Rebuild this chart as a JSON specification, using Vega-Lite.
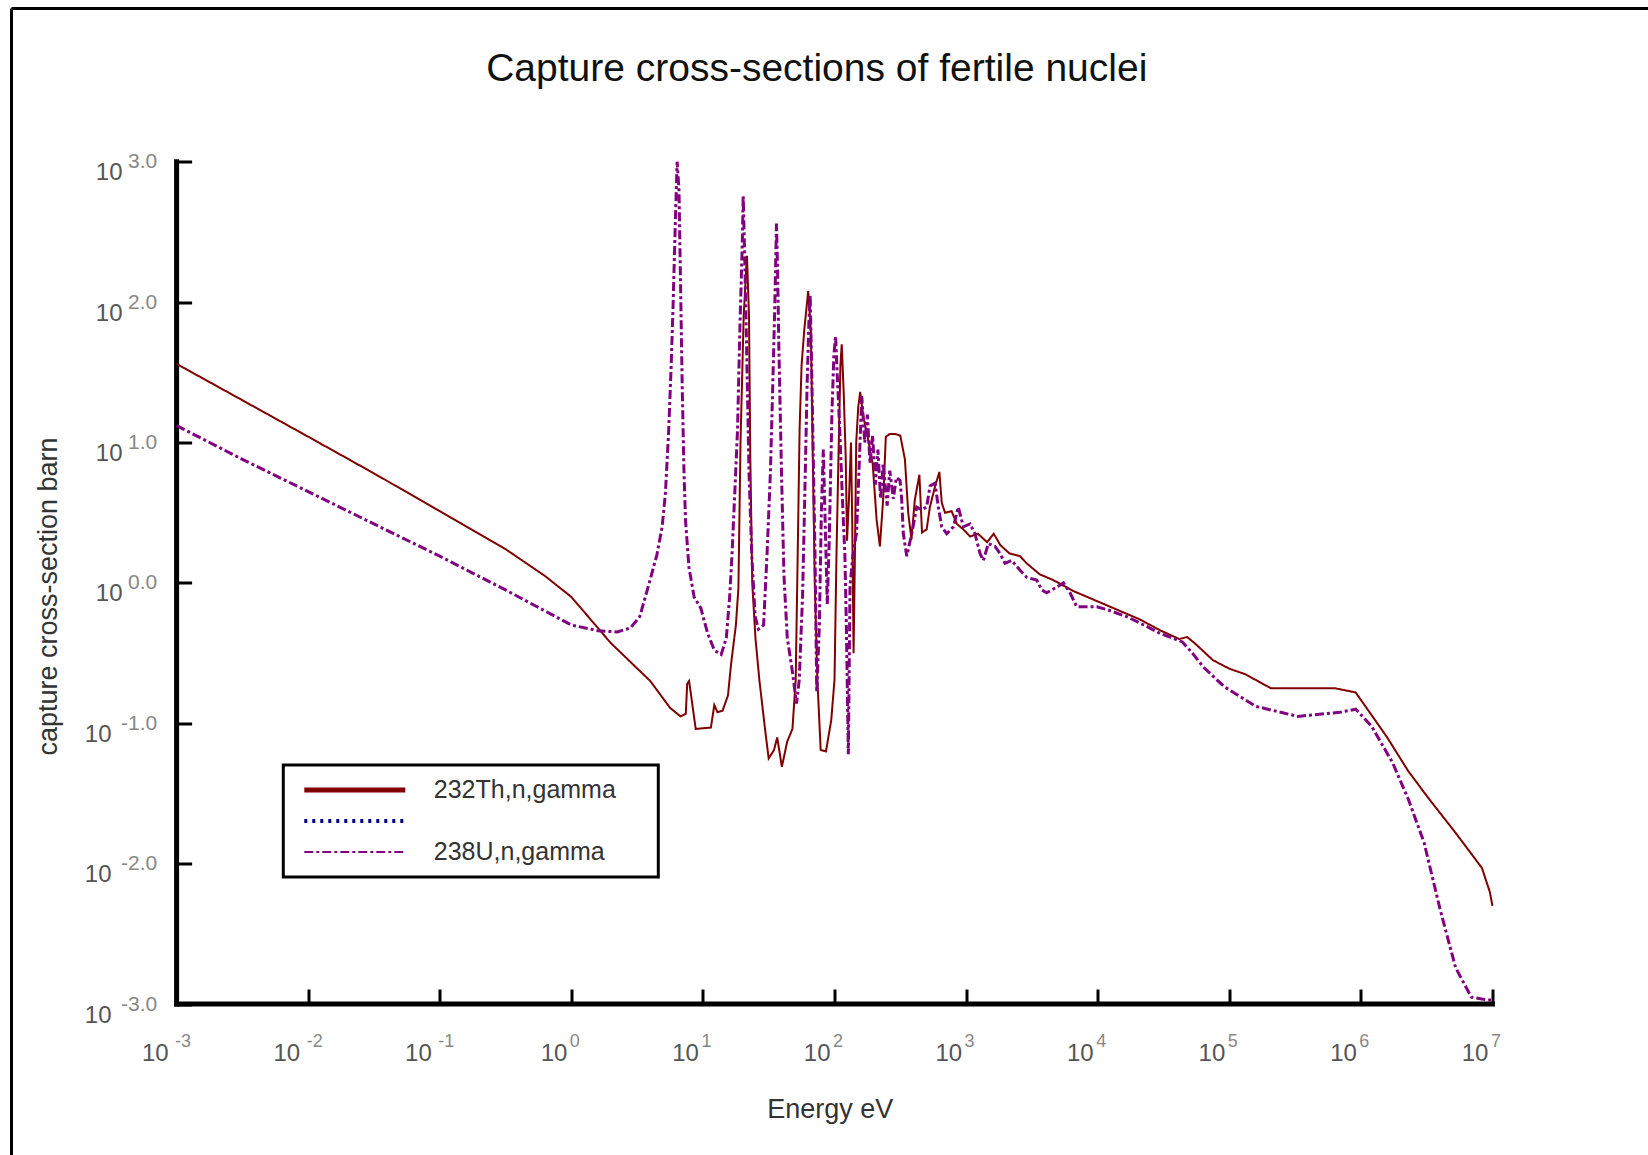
{
  "$schema": "https://vega.github.io/schema/vega-lite/v6.json",
  "width": 1636.5,
  "height": 1146.5,
  "autosize": "none",
  "padding": {"left": 11.5, "top": 8.5, "right": 0, "bottom": 0},
  "background": "white",
  "config": {"view": {"stroke": null}, "axis": {"grid": false}, "font": "Liberation Sans"},
  "title": {"text": "Capture cross-sections of fertile nuclei", "frame": "group", "anchor": "middle", "orient": "top", "offset": -82, "dx": -13, "font": "Liberation Sans", "fontSize": 39, "fontWeight": "normal", "color": "#111"},
  "resolve": {"axis": {"x": "independent", "y": "independent"}},
  "datasets": {
    "yexp": [
      {"sigma": 1000, "exp": "3.0"}, {"sigma": 100, "exp": "2.0"}, {"sigma": 10, "exp": "1.0"}, {"sigma": 1, "exp": "0.0"},
      {"sigma": 0.1, "exp": "-1.0"}, {"sigma": 0.01, "exp": "-2.0"}, {"sigma": 0.001, "exp": "-3.0"}
    ],
    "xexp": [
      {"E": 0.001, "exp": "-3"}, {"E": 0.01, "exp": "-2"}, {"E": 0.1, "exp": "-1"}, {"E": 1, "exp": "0"},
      {"E": 10, "exp": "1"}, {"E": 100, "exp": "2"}, {"E": 1000, "exp": "3"}, {"E": 10000, "exp": "4"},
      {"E": 100000, "exp": "5"}, {"E": 1000000, "exp": "6"}, {"E": 10000000, "exp": "7"}
    ],
    "curves": [
      {"series": "232Th,n,gamma", "E": 0.001, "sigma": 36.3},
      {"series": "232Th,n,gamma", "E": 0.00316, "sigma": 20.0},
      {"series": "232Th,n,gamma", "E": 0.01, "sigma": 11.0},
      {"series": "232Th,n,gamma", "E": 0.0316, "sigma": 6.03},
      {"series": "232Th,n,gamma", "E": 0.1, "sigma": 3.24},
      {"series": "232Th,n,gamma", "E": 0.316, "sigma": 1.74},
      {"series": "232Th,n,gamma", "E": 0.631, "sigma": 1.12},
      {"series": "232Th,n,gamma", "E": 1.0, "sigma": 0.794},
      {"series": "232Th,n,gamma", "E": 2.0, "sigma": 0.372},
      {"series": "232Th,n,gamma", "E": 3.98, "sigma": 0.2},
      {"series": "232Th,n,gamma", "E": 5.62, "sigma": 0.129},
      {"series": "232Th,n,gamma", "E": 6.76, "sigma": 0.112},
      {"series": "232Th,n,gamma", "E": 7.41, "sigma": 0.117},
      {"series": "232Th,n,gamma", "E": 7.59, "sigma": 0.191},
      {"series": "232Th,n,gamma", "E": 7.85, "sigma": 0.2},
      {"series": "232Th,n,gamma", "E": 8.13, "sigma": 0.158},
      {"series": "232Th,n,gamma", "E": 8.81, "sigma": 0.0912},
      {"series": "232Th,n,gamma", "E": 11.5, "sigma": 0.0933},
      {"series": "232Th,n,gamma", "E": 12.2, "sigma": 0.135},
      {"series": "232Th,n,gamma", "E": 12.9, "sigma": 0.12},
      {"series": "232Th,n,gamma", "E": 14.1, "sigma": 0.123},
      {"series": "232Th,n,gamma", "E": 15.5, "sigma": 0.158},
      {"series": "232Th,n,gamma", "E": 16.4, "sigma": 0.269},
      {"series": "232Th,n,gamma", "E": 17.8, "sigma": 0.501},
      {"series": "232Th,n,gamma", "E": 18.6, "sigma": 0.912},
      {"series": "232Th,n,gamma", "E": 19.3, "sigma": 10.0},
      {"series": "232Th,n,gamma", "E": 20.4, "sigma": 79.4},
      {"series": "232Th,n,gamma", "E": 21.6, "sigma": 214},
      {"series": "232Th,n,gamma", "E": 22.4, "sigma": 79.4},
      {"series": "232Th,n,gamma", "E": 22.9, "sigma": 7.94},
      {"series": "232Th,n,gamma", "E": 23.7, "sigma": 1.0},
      {"series": "232Th,n,gamma", "E": 25.1, "sigma": 0.398},
      {"series": "232Th,n,gamma", "E": 26.9, "sigma": 0.2},
      {"series": "232Th,n,gamma", "E": 29.9, "sigma": 0.0851},
      {"series": "232Th,n,gamma", "E": 31.6, "sigma": 0.0562},
      {"series": "232Th,n,gamma", "E": 34.7, "sigma": 0.0646},
      {"series": "232Th,n,gamma", "E": 36.7, "sigma": 0.0794},
      {"series": "232Th,n,gamma", "E": 39.8, "sigma": 0.049},
      {"series": "232Th,n,gamma", "E": 43.7, "sigma": 0.0741},
      {"series": "232Th,n,gamma", "E": 47.9, "sigma": 0.0912},
      {"series": "232Th,n,gamma", "E": 50.7, "sigma": 0.204},
      {"series": "232Th,n,gamma", "E": 52.5, "sigma": 1.585},
      {"series": "232Th,n,gamma", "E": 54.3, "sigma": 12.6},
      {"series": "232Th,n,gamma", "E": 56.2, "sigma": 35.5},
      {"series": "232Th,n,gamma", "E": 58.9, "sigma": 63.1},
      {"series": "232Th,n,gamma", "E": 63.1, "sigma": 120},
      {"series": "232Th,n,gamma", "E": 66.1, "sigma": 63.1},
      {"series": "232Th,n,gamma", "E": 68.4, "sigma": 7.94},
      {"series": "232Th,n,gamma", "E": 70.8, "sigma": 1.0},
      {"series": "232Th,n,gamma", "E": 74.1, "sigma": 0.204},
      {"series": "232Th,n,gamma", "E": 78.5, "sigma": 0.0646},
      {"series": "232Th,n,gamma", "E": 86.1, "sigma": 0.0631},
      {"series": "232Th,n,gamma", "E": 94.4, "sigma": 0.105},
      {"series": "232Th,n,gamma", "E": 100, "sigma": 0.204},
      {"series": "232Th,n,gamma", "E": 103.5, "sigma": 1.585},
      {"series": "232Th,n,gamma", "E": 107.2, "sigma": 7.94},
      {"series": "232Th,n,gamma", "E": 110.9, "sigma": 35.5},
      {"series": "232Th,n,gamma", "E": 113.5, "sigma": 50.1},
      {"series": "232Th,n,gamma", "E": 117.5, "sigma": 22.4},
      {"series": "232Th,n,gamma", "E": 121.6, "sigma": 7.94},
      {"series": "232Th,n,gamma", "E": 124.5, "sigma": 2.0},
      {"series": "232Th,n,gamma", "E": 128.8, "sigma": 3.98},
      {"series": "232Th,n,gamma", "E": 133.4, "sigma": 10.0},
      {"series": "232Th,n,gamma", "E": 136.5, "sigma": 2.51},
      {"series": "232Th,n,gamma", "E": 139.6, "sigma": 0.316},
      {"series": "232Th,n,gamma", "E": 142.9, "sigma": 1.585},
      {"series": "232Th,n,gamma", "E": 146.2, "sigma": 10.0},
      {"series": "232Th,n,gamma", "E": 151.4, "sigma": 17.8},
      {"series": "232Th,n,gamma", "E": 156.7, "sigma": 22.9},
      {"series": "232Th,n,gamma", "E": 166, "sigma": 15.1},
      {"series": "232Th,n,gamma", "E": 177.8, "sigma": 11.2},
      {"series": "232Th,n,gamma", "E": 195, "sigma": 7.08},
      {"series": "232Th,n,gamma", "E": 208.9, "sigma": 2.82},
      {"series": "232Th,n,gamma", "E": 221.3, "sigma": 1.82},
      {"series": "232Th,n,gamma", "E": 234.4, "sigma": 3.98},
      {"series": "232Th,n,gamma", "E": 245.5, "sigma": 11.0},
      {"series": "232Th,n,gamma", "E": 263, "sigma": 11.5},
      {"series": "232Th,n,gamma", "E": 288.4, "sigma": 11.5},
      {"series": "232Th,n,gamma", "E": 316.2, "sigma": 11.2},
      {"series": "232Th,n,gamma", "E": 342.8, "sigma": 7.59},
      {"series": "232Th,n,gamma", "E": 363.1, "sigma": 3.16},
      {"series": "232Th,n,gamma", "E": 384.6, "sigma": 2.04},
      {"series": "232Th,n,gamma", "E": 407.4, "sigma": 3.89},
      {"series": "232Th,n,gamma", "E": 441.6, "sigma": 5.89},
      {"series": "232Th,n,gamma", "E": 462.4, "sigma": 2.29},
      {"series": "232Th,n,gamma", "E": 501.2, "sigma": 2.4},
      {"series": "232Th,n,gamma", "E": 530.9, "sigma": 3.47},
      {"series": "232Th,n,gamma", "E": 582.1, "sigma": 4.9},
      {"series": "232Th,n,gamma", "E": 626.6, "sigma": 6.17},
      {"series": "232Th,n,gamma", "E": 653.1, "sigma": 3.72},
      {"series": "232Th,n,gamma", "E": 691.8, "sigma": 3.16},
      {"series": "232Th,n,gamma", "E": 776.2, "sigma": 3.24},
      {"series": "232Th,n,gamma", "E": 851.1, "sigma": 2.63},
      {"series": "232Th,n,gamma", "E": 955, "sigma": 2.4},
      {"series": "232Th,n,gamma", "E": 1072, "sigma": 2.14},
      {"series": "232Th,n,gamma", "E": 1230, "sigma": 2.24},
      {"series": "232Th,n,gamma", "E": 1445, "sigma": 1.95},
      {"series": "232Th,n,gamma", "E": 1622, "sigma": 2.24},
      {"series": "232Th,n,gamma", "E": 1820, "sigma": 1.86},
      {"series": "232Th,n,gamma", "E": 2138, "sigma": 1.62},
      {"series": "232Th,n,gamma", "E": 2570, "sigma": 1.55},
      {"series": "232Th,n,gamma", "E": 2884, "sigma": 1.38},
      {"series": "232Th,n,gamma", "E": 3631, "sigma": 1.15},
      {"series": "232Th,n,gamma", "E": 4571, "sigma": 1.05},
      {"series": "232Th,n,gamma", "E": 6607, "sigma": 0.871},
      {"series": "232Th,n,gamma", "E": 9333, "sigma": 0.759},
      {"series": "232Th,n,gamma", "E": 13183, "sigma": 0.661},
      {"series": "232Th,n,gamma", "E": 20893, "sigma": 0.55},
      {"series": "232Th,n,gamma", "E": 29512, "sigma": 0.462},
      {"series": "232Th,n,gamma", "E": 41687, "sigma": 0.398},
      {"series": "232Th,n,gamma", "E": 47863, "sigma": 0.412},
      {"series": "232Th,n,gamma", "E": 56234, "sigma": 0.363},
      {"series": "232Th,n,gamma", "E": 74989, "sigma": 0.282},
      {"series": "232Th,n,gamma", "E": 100000, "sigma": 0.245},
      {"series": "232Th,n,gamma", "E": 131826, "sigma": 0.224},
      {"series": "232Th,n,gamma", "E": 206538, "sigma": 0.178},
      {"series": "232Th,n,gamma", "E": 630957, "sigma": 0.178},
      {"series": "232Th,n,gamma", "E": 912011, "sigma": 0.166},
      {"series": "232Th,n,gamma", "E": 1202264, "sigma": 0.115},
      {"series": "232Th,n,gamma", "E": 1584893, "sigma": 0.0794},
      {"series": "232Th,n,gamma", "E": 2290868, "sigma": 0.0457},
      {"series": "232Th,n,gamma", "E": 3311311, "sigma": 0.0288},
      {"series": "232Th,n,gamma", "E": 5248075, "sigma": 0.0166},
      {"series": "232Th,n,gamma", "E": 8317638, "sigma": 0.00933},
      {"series": "232Th,n,gamma", "E": 9549926, "sigma": 0.00631},
      {"series": "232Th,n,gamma", "E": 10000000, "sigma": 0.00501},
      {"series": "238U,n,gamma", "E": 0.001, "sigma": 13.2},
      {"series": "238U,n,gamma", "E": 0.00316, "sigma": 7.59},
      {"series": "238U,n,gamma", "E": 0.01, "sigma": 4.47},
      {"series": "238U,n,gamma", "E": 0.0316, "sigma": 2.63},
      {"series": "238U,n,gamma", "E": 0.1, "sigma": 1.55},
      {"series": "238U,n,gamma", "E": 0.316, "sigma": 0.891},
      {"series": "238U,n,gamma", "E": 0.631, "sigma": 0.631},
      {"series": "238U,n,gamma", "E": 1, "sigma": 0.501},
      {"series": "238U,n,gamma", "E": 1.585, "sigma": 0.457},
      {"series": "238U,n,gamma", "E": 2.239, "sigma": 0.447},
      {"series": "238U,n,gamma", "E": 2.818, "sigma": 0.479},
      {"series": "238U,n,gamma", "E": 3.311, "sigma": 0.575},
      {"series": "238U,n,gamma", "E": 3.963, "sigma": 1.047},
      {"series": "238U,n,gamma", "E": 4.467, "sigma": 1.585},
      {"series": "238U,n,gamma", "E": 4.898, "sigma": 2.512},
      {"series": "238U,n,gamma", "E": 5.188, "sigma": 4.365},
      {"series": "238U,n,gamma", "E": 5.495, "sigma": 12.3},
      {"series": "238U,n,gamma", "E": 5.728, "sigma": 33.9},
      {"series": "238U,n,gamma", "E": 5.93, "sigma": 93.3},
      {"series": "238U,n,gamma", "E": 6.166, "sigma": 363},
      {"series": "238U,n,gamma", "E": 6.368, "sigma": 1000},
      {"series": "238U,n,gamma", "E": 6.577, "sigma": 631},
      {"series": "238U,n,gamma", "E": 6.761, "sigma": 132},
      {"series": "238U,n,gamma", "E": 6.966, "sigma": 24},
      {"series": "238U,n,gamma", "E": 7.178, "sigma": 6.17},
      {"series": "238U,n,gamma", "E": 7.379, "sigma": 2.75},
      {"series": "238U,n,gamma", "E": 7.834, "sigma": 1.288},
      {"series": "238U,n,gamma", "E": 8.57, "sigma": 0.794},
      {"series": "238U,n,gamma", "E": 9.638, "sigma": 0.661},
      {"series": "238U,n,gamma", "E": 10.86, "sigma": 0.437},
      {"series": "238U,n,gamma", "E": 12.22, "sigma": 0.331},
      {"series": "238U,n,gamma", "E": 13.77, "sigma": 0.309},
      {"series": "238U,n,gamma", "E": 15.07, "sigma": 0.407},
      {"series": "238U,n,gamma", "E": 15.96, "sigma": 0.794},
      {"series": "238U,n,gamma", "E": 16.63, "sigma": 1.585},
      {"series": "238U,n,gamma", "E": 17.46, "sigma": 4.365},
      {"series": "238U,n,gamma", "E": 18.32, "sigma": 12.3},
      {"series": "238U,n,gamma", "E": 19.1, "sigma": 66.1},
      {"series": "238U,n,gamma", "E": 19.91, "sigma": 263},
      {"series": "238U,n,gamma", "E": 20.23, "sigma": 575},
      {"series": "238U,n,gamma", "E": 20.8, "sigma": 200},
      {"series": "238U,n,gamma", "E": 21.48, "sigma": 47.9},
      {"series": "238U,n,gamma", "E": 22.39, "sigma": 6.17},
      {"series": "238U,n,gamma", "E": 23.5, "sigma": 1.585},
      {"series": "238U,n,gamma", "E": 24.95, "sigma": 0.575},
      {"series": "238U,n,gamma", "E": 26.42, "sigma": 0.468},
      {"series": "238U,n,gamma", "E": 28.91, "sigma": 0.501},
      {"series": "238U,n,gamma", "E": 30.69, "sigma": 1.585},
      {"series": "238U,n,gamma", "E": 32.58, "sigma": 6.17},
      {"series": "238U,n,gamma", "E": 33.88, "sigma": 24},
      {"series": "238U,n,gamma", "E": 35.16, "sigma": 93.3},
      {"series": "238U,n,gamma", "E": 36.22, "sigma": 363},
      {"series": "238U,n,gamma", "E": 36.98, "sigma": 158},
      {"series": "238U,n,gamma", "E": 37.76, "sigma": 47.9},
      {"series": "238U,n,gamma", "E": 39.54, "sigma": 6.17},
      {"series": "238U,n,gamma", "E": 41.3, "sigma": 1.122},
      {"series": "238U,n,gamma", "E": 43.75, "sigma": 0.407},
      {"series": "238U,n,gamma", "E": 47.86, "sigma": 0.234},
      {"series": "238U,n,gamma", "E": 51.4, "sigma": 0.138},
      {"series": "238U,n,gamma", "E": 53.95, "sigma": 0.204},
      {"series": "238U,n,gamma", "E": 57.15, "sigma": 0.794},
      {"series": "238U,n,gamma", "E": 59.98, "sigma": 6.17},
      {"series": "238U,n,gamma", "E": 61.8, "sigma": 24},
      {"series": "238U,n,gamma", "E": 63.83, "sigma": 70.8},
      {"series": "238U,n,gamma", "E": 65.31, "sigma": 112},
      {"series": "238U,n,gamma", "E": 66.83, "sigma": 39.8},
      {"series": "238U,n,gamma", "E": 68.39, "sigma": 12.3},
      {"series": "238U,n,gamma", "E": 71.12, "sigma": 1.585},
      {"series": "238U,n,gamma", "E": 73.28, "sigma": 0.166},
      {"series": "238U,n,gamma", "E": 76.74, "sigma": 0.501},
      {"series": "238U,n,gamma", "E": 79.43, "sigma": 3.162},
      {"series": "238U,n,gamma", "E": 82.22, "sigma": 8.91},
      {"series": "238U,n,gamma", "E": 85.11, "sigma": 2.512},
      {"series": "238U,n,gamma", "E": 88.1, "sigma": 0.708},
      {"series": "238U,n,gamma", "E": 91.2, "sigma": 1.995},
      {"series": "238U,n,gamma", "E": 95.5, "sigma": 15.8},
      {"series": "238U,n,gamma", "E": 98.86, "sigma": 41.7},
      {"series": "238U,n,gamma", "E": 101.9, "sigma": 57.5},
      {"series": "238U,n,gamma", "E": 104.7, "sigma": 31.6},
      {"series": "238U,n,gamma", "E": 109.6, "sigma": 12.3},
      {"series": "238U,n,gamma", "E": 114.8, "sigma": 3.98},
      {"series": "238U,n,gamma", "E": 119.9, "sigma": 1.585},
      {"series": "238U,n,gamma", "E": 123, "sigma": 0.501},
      {"series": "238U,n,gamma", "E": 127.4, "sigma": 0.0603},
      {"series": "238U,n,gamma", "E": 131.2, "sigma": 0.955},
      {"series": "238U,n,gamma", "E": 138, "sigma": 1.585},
      {"series": "238U,n,gamma", "E": 147.2, "sigma": 2.29},
      {"series": "238U,n,gamma", "E": 154.9, "sigma": 7.94},
      {"series": "238U,n,gamma", "E": 161.1, "sigma": 21.4},
      {"series": "238U,n,gamma", "E": 169.8, "sigma": 10.0},
      {"series": "238U,n,gamma", "E": 177.8, "sigma": 15.8},
      {"series": "238U,n,gamma", "E": 186.2, "sigma": 7.08},
      {"series": "238U,n,gamma", "E": 195.0, "sigma": 11.2},
      {"series": "238U,n,gamma", "E": 204.2, "sigma": 5.01},
      {"series": "238U,n,gamma", "E": 213.8, "sigma": 8.91},
      {"series": "238U,n,gamma", "E": 223.9, "sigma": 3.98},
      {"series": "238U,n,gamma", "E": 234.4, "sigma": 7.08},
      {"series": "238U,n,gamma", "E": 251.2, "sigma": 3.55},
      {"series": "238U,n,gamma", "E": 263.0, "sigma": 6.31},
      {"series": "238U,n,gamma", "E": 279.9, "sigma": 3.98},
      {"series": "238U,n,gamma", "E": 295.1, "sigma": 5.62},
      {"series": "238U,n,gamma", "E": 314.8, "sigma": 5.37},
      {"series": "238U,n,gamma", "E": 324.3, "sigma": 3.89},
      {"series": "238U,n,gamma", "E": 333.4, "sigma": 2.24},
      {"series": "238U,n,gamma", "E": 354, "sigma": 1.55},
      {"series": "238U,n,gamma", "E": 386.4, "sigma": 2.24},
      {"series": "238U,n,gamma", "E": 421.7, "sigma": 3.47},
      {"series": "238U,n,gamma", "E": 460.3, "sigma": 3.31},
      {"series": "238U,n,gamma", "E": 501.2, "sigma": 3.47},
      {"series": "238U,n,gamma", "E": 532.1, "sigma": 4.9},
      {"series": "238U,n,gamma", "E": 580.8, "sigma": 5.13},
      {"series": "238U,n,gamma", "E": 615.2, "sigma": 3.47},
      {"series": "238U,n,gamma", "E": 653.1, "sigma": 2.51},
      {"series": "238U,n,gamma", "E": 712.9, "sigma": 2.24},
      {"series": "238U,n,gamma", "E": 801.7, "sigma": 2.51},
      {"series": "238U,n,gamma", "E": 873, "sigma": 3.47},
      {"series": "238U,n,gamma", "E": 952.8, "sigma": 2.51},
      {"series": "238U,n,gamma", "E": 1072, "sigma": 2.63},
      {"series": "238U,n,gamma", "E": 1169, "sigma": 2.24},
      {"series": "238U,n,gamma", "E": 1276, "sigma": 1.62},
      {"series": "238U,n,gamma", "E": 1352, "sigma": 1.445},
      {"series": "238U,n,gamma", "E": 1476, "sigma": 1.905},
      {"series": "238U,n,gamma", "E": 1660, "sigma": 1.82},
      {"series": "238U,n,gamma", "E": 1811, "sigma": 1.62},
      {"series": "238U,n,gamma", "E": 1977, "sigma": 1.38},
      {"series": "238U,n,gamma", "E": 2223, "sigma": 1.445},
      {"series": "238U,n,gamma", "E": 2570, "sigma": 1.23},
      {"series": "238U,n,gamma", "E": 2891, "sigma": 1.096},
      {"series": "238U,n,gamma", "E": 3443, "sigma": 1.047},
      {"series": "238U,n,gamma", "E": 3758, "sigma": 0.891},
      {"series": "238U,n,gamma", "E": 4102, "sigma": 0.851},
      {"series": "238U,n,gamma", "E": 4887, "sigma": 0.933},
      {"series": "238U,n,gamma", "E": 5495, "sigma": 1.0},
      {"series": "238U,n,gamma", "E": 6166, "sigma": 0.851},
      {"series": "238U,n,gamma", "E": 6934, "sigma": 0.676},
      {"series": "238U,n,gamma", "E": 8260, "sigma": 0.676},
      {"series": "238U,n,gamma", "E": 9840, "sigma": 0.676},
      {"series": "238U,n,gamma", "E": 11722, "sigma": 0.646},
      {"series": "238U,n,gamma", "E": 16634, "sigma": 0.575},
      {"series": "238U,n,gamma", "E": 23605, "sigma": 0.49},
      {"series": "238U,n,gamma", "E": 29785, "sigma": 0.437},
      {"series": "238U,n,gamma", "E": 44055, "sigma": 0.38},
      {"series": "238U,n,gamma", "E": 52481, "sigma": 0.316},
      {"series": "238U,n,gamma", "E": 63680, "sigma": 0.251},
      {"series": "238U,n,gamma", "E": 91833, "sigma": 0.182},
      {"series": "238U,n,gamma", "E": 159588, "sigma": 0.132},
      {"series": "238U,n,gamma", "E": 332659, "sigma": 0.112},
      {"series": "238U,n,gamma", "E": 695024, "sigma": 0.12},
      {"series": "238U,n,gamma", "E": 916220, "sigma": 0.126},
      {"series": "238U,n,gamma", "E": 1205040, "sigma": 0.0955},
      {"series": "238U,n,gamma", "E": 1741810, "sigma": 0.0525},
      {"series": "238U,n,gamma", "E": 2296140, "sigma": 0.0288},
      {"series": "238U,n,gamma", "E": 3026900, "sigma": 0.0141},
      {"series": "238U,n,gamma", "E": 3990249, "sigma": 0.00479},
      {"series": "238U,n,gamma", "E": 5248075, "sigma": 0.00182},
      {"series": "238U,n,gamma", "E": 6918310, "sigma": 0.00112},
      {"series": "238U,n,gamma", "E": 9120108, "sigma": 0.00107},
      {"series": "238U,n,gamma", "E": 10000000, "sigma": 0.00107}
    ]
  },
  "layer": [
    {
      "data": {"values": [{}]},
      "mark": {"type": "rule", "color": "black", "strokeWidth": 3},
      "encoding": {
        "x": {"datum": 5.562e-5, "type": "quantitative", "scale": {"type": "log", "domain": [5.562e-5, 1.522e8], "nice": false}, "axis": null}
      }
    },
    {
      "data": {"values": [{}]},
      "mark": {"type": "rule", "color": "black", "strokeWidth": 3},
      "encoding": {
        "y": {"datum": 12336, "type": "quantitative", "scale": {"type": "log", "domain": [8.42e-5, 12336], "nice": false}, "axis": null}
      }
    },
    {
      "data": {"values": [{}]},
      "mark": {"type": "rule", "color": "black", "strokeWidth": 5, "strokeCap": "square"},
      "encoding": {
        "x": {"datum": 0.001, "type": "quantitative", "scale": {"type": "log", "domain": [5.562e-5, 1.522e8], "nice": false}, "axis": null},
        "x2": {"datum": 10000000},
        "y": {"datum": 0.001, "type": "quantitative", "scale": {"type": "log", "domain": [8.42e-5, 12336], "nice": false}, "axis": null}
      }
    },
    {
      "data": {"values": [{}]},
      "mark": {"type": "rule", "color": "black", "strokeWidth": 5, "strokeCap": "square"},
      "encoding": {
        "x": {"datum": 0.001, "type": "quantitative", "scale": {"type": "log", "domain": [5.562e-5, 1.522e8], "nice": false}, "axis": null},
        "y": {"datum": 0.001, "type": "quantitative", "scale": {"type": "log", "domain": [8.42e-5, 12336], "nice": false}, "axis": null},
        "y2": {"datum": 1000}
      }
    },
    {
      "data": {"name": "curves"},
      "mark": {"type": "line", "interpolate": "linear"},
      "encoding": {
        "x": {
          "field": "E", "type": "quantitative",
          "scale": {"type": "log", "domain": [5.562e-5, 1.522e8], "nice": false},
          "axis": {
            "orient": "bottom", "offset": -151,
            "values": [0.001, 0.01, 0.1, 1, 10, 100, 1000, 10000, 100000, 1000000, 10000000],
            "domain": false, "grid": false,
            "ticks": true, "tickSize": -15, "tickWidth": 3, "tickColor": "black",
            "labelExpr": "'10'", "labelFont": "Liberation Sans", "labelFontSize": 24, "labelColor": "#555",
            "labelAlign": "right", "labelBaseline": "alphabetic", "labelPadding": 71,
            "labelOffset": {"condition": {"test": "datum.value < 1", "value": -8.5}, "value": -4.5},
            "labelFlush": false, "labelOverlap": false, "labelBound": false,
            "title": "Energy eV", "titleFont": "Liberation Sans", "titleFontSize": 27, "titleFontWeight": "normal",
            "titleColor": "#333", "titleY": 113, "titleBaseline": "alphabetic", "titleAlign": "center"
          }
        },
        "y": {
          "field": "sigma", "type": "quantitative",
          "scale": {"type": "log", "domain": [8.42e-5, 12336], "nice": false},
          "axis": {
            "orient": "left", "offset": -165.1,
            "values": [0.001, 0.01, 0.1, 1, 10, 100, 1000],
            "domain": false, "grid": false,
            "ticks": true, "tickSize": -15, "tickWidth": 3, "tickColor": "black",
            "labelExpr": "'10'", "labelFont": "Liberation Sans", "labelFontSize": 24, "labelColor": "#555",
            "labelAlign": "right", "labelBaseline": "alphabetic", "labelOffset": 18,
            "labelPadding": {"condition": {"test": "datum.value < 1", "value": 80.6}, "value": 69.6},
            "labelFlush": false, "labelOverlap": false, "labelBound": false,
            "title": "capture cross-section barn", "titleFont": "Liberation Sans", "titleFontSize": 27, "titleFontWeight": "normal",
            "titleColor": "#333", "titleX": -120.6, "titleY": 587.5, "titleAngle": 270, "titleAlign": "center", "titleBaseline": "alphabetic"
          }
        },
        "color": {
          "field": "series", "type": "nominal",
          "scale": {"domain": ["232Th,n,gamma", " ", "238U,n,gamma"], "range": ["#800000", "#000080", "#800080"]},
          "legend": {
            "orient": "none", "legendX": 271.8, "legendY": 756.5, "title": null, "direction": "vertical",
            "symbolType": "stroke", "symbolSize": 10201, "symbolStrokeWidth": 3, "symbolOffset": 49,
            "clipHeight": 30, "rowPadding": 1, "padding": 10,
            "strokeColor": "black", "fillColor": "white",
            "labelFont": "Liberation Sans", "labelFontSize": 25, "labelColor": "#333", "labelOffset": 66.5, "labelLimit": 500,
            "encode": {
              "legend": {"update": {"strokeWidth": {"value": 3}}},
              "entries": {"update": {"width": {"value": 355}}},
              "symbols": {"update": {
                "strokeWidth": {"signal": "datum.value === '232Th,n,gamma' ? 5 : (datum.value === '238U,n,gamma' ? 2 : 4)"},
                "strokeDash": {"signal": "datum.value === ' ' ? [4, 6] : (datum.value === '238U,n,gamma' ? [8, 3, 3, 3] : [1, 0])"}
              }}
            }
          }
        },
        "strokeDash": {
          "field": "series", "type": "nominal",
          "scale": {"domain": ["232Th,n,gamma", " ", "238U,n,gamma"], "range": [[1, 0], [3, 5], [9, 3, 3, 3]]},
          "legend": null
        },
        "strokeWidth": {"condition": {"test": "datum.series === '238U,n,gamma'", "value": 3}, "value": 2}
      }
    },
    {
      "data": {"name": "yexp"},
      "mark": {"type": "text", "align": "right", "baseline": "alphabetic", "dx": -19.3, "dy": 6.5, "font": "Liberation Sans", "fontSize": 21, "color": "#888"},
      "encoding": {
        "x": {"datum": 0.001, "type": "quantitative", "scale": {"type": "log", "domain": [5.562e-5, 1.522e8], "nice": false}, "axis": null},
        "y": {"field": "sigma", "type": "quantitative", "scale": {"type": "log", "domain": [8.42e-5, 12336], "nice": false}, "axis": null},
        "text": {"field": "exp"}
      }
    },
    {
      "data": {"name": "xexp"},
      "mark": {"type": "text", "align": "left", "baseline": "alphabetic", "dx": -1.5, "dy": 42.7, "font": "Liberation Sans", "fontSize": 18, "color": "#888"},
      "encoding": {
        "x": {"field": "E", "type": "quantitative", "scale": {"type": "log", "domain": [5.562e-5, 1.522e8], "nice": false}, "axis": null},
        "y": {"datum": 0.001, "type": "quantitative", "scale": {"type": "log", "domain": [8.42e-5, 12336], "nice": false}, "axis": null},
        "text": {"field": "exp"}
      }
    }
  ]
}
